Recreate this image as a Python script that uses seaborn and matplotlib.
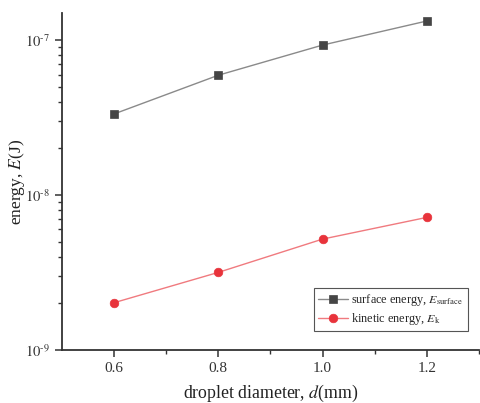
import matplotlib
matplotlib.use("Agg")
import matplotlib.pyplot as plt
import matplotlib.ticker as mticker
import seaborn as sns
import pandas as pd
import numpy as np

diameter = [0.6, 0.8, 1.0, 1.2]
surface_energy = [3.34e-8, 5.94e-8, 9.3e-8, 1.33e-7]
kinetic_energy = [2.02e-9, 3.17e-9, 5.2e-9, 7.18e-9]
x_ticks = [0.6, 0.8, 1.0, 1.2]
x_tick_labels = ["0.6", "0.8", "1.0", "1.2"]

sns.set_style("ticks")
plt.rcParams['font.family'] = ['Liberation Serif', 'DejaVu Serif']
plt.rcParams['mathtext.fontset'] = 'stix'

fig = plt.figure(figsize=(4.8, 4.03), dpi=100)
ax = fig.add_axes([0.129, 0.1315, 0.869, 0.8365])

df_s = pd.DataFrame({"d": diameter, "E": surface_energy})
df_k = pd.DataFrame({"d": diameter, "E": kinetic_energy})

sns.lineplot(data=df_s, x="d", y="E", ax=ax, color="#8a8a8a", linewidth=1.0,
             marker="s", markersize=5.2, markerfacecolor="#454545",
             markeredgecolor="#454545", markeredgewidth=0.5,
             label=r"surface energy, $E_{\mathrm{surface}}$")
sns.lineplot(data=df_k, x="d", y="E", ax=ax, color="#f07a7f", linewidth=1.0,
             marker="o", markersize=6.2, markerfacecolor="#e8333b",
             markeredgecolor="#e8333b", markeredgewidth=0.5,
             label=r"kinetic energy, $E_{\mathrm{k}}$")

ax.set_yscale("log")
ax.set_ylim(1e-9, 1.5e-7)
ax.set_xlim(0.5, 1.3)
ax.set_xticks(x_ticks)
ax.set_xticklabels(x_tick_labels)
ax.xaxis.set_minor_locator(mticker.FixedLocator([0.7, 0.9, 1.1, 1.3]))

def fmt(v, pos):
    e = int(np.round(np.log10(v)))
    return r"$10^{\text{-}%d}$" % (-e) if e < 0 else r"$10^{%d}$" % e
ax.yaxis.set_major_locator(mticker.LogLocator(base=10, numticks=10))
ax.yaxis.set_major_formatter(mticker.FuncFormatter(fmt))
ax.yaxis.set_minor_locator(mticker.LogLocator(base=10, subs=np.arange(2, 10), numticks=10))
ax.yaxis.set_minor_formatter(mticker.NullFormatter())

for s in ["top", "right"]:
    ax.spines[s].set_visible(False)
for s in ["left", "bottom"]:
    ax.spines[s].set_color("#333333")
    ax.spines[s].set_linewidth(1.3)

ax.tick_params(axis="both", which="major", direction="out", length=5, width=1.1,
               colors="#333333", labelsize=11, labelcolor="#333333")
ax.tick_params(axis="y", which="major", labelsize=10.5)
ax.tick_params(axis="both", which="minor", direction="out", length=3, width=1.0,
               colors="#333333")

ax.set_xlabel(r"droplet diameter, $d$(mm)", fontsize=12.8, color="#222222")
ax.set_ylabel(r"energy, $E$(J)", fontsize=12.5, color="#222222")
ax.xaxis.set_label_coords(0.5, -0.098)
ax.yaxis.set_label_coords(-0.084, 0.5)

leg = ax.legend(loc="lower right", bbox_to_anchor=(0.987, 0.037), fontsize=8.8,
                frameon=True, fancybox=False, edgecolor="#555555",
                borderpad=0.35, handlelength=2.4, labelspacing=0.25,
                handletextpad=0.3)
leg.get_frame().set_linewidth(0.8)
leg.get_frame().set_alpha(1)

fig.savefig("out.png", dpi=100)
